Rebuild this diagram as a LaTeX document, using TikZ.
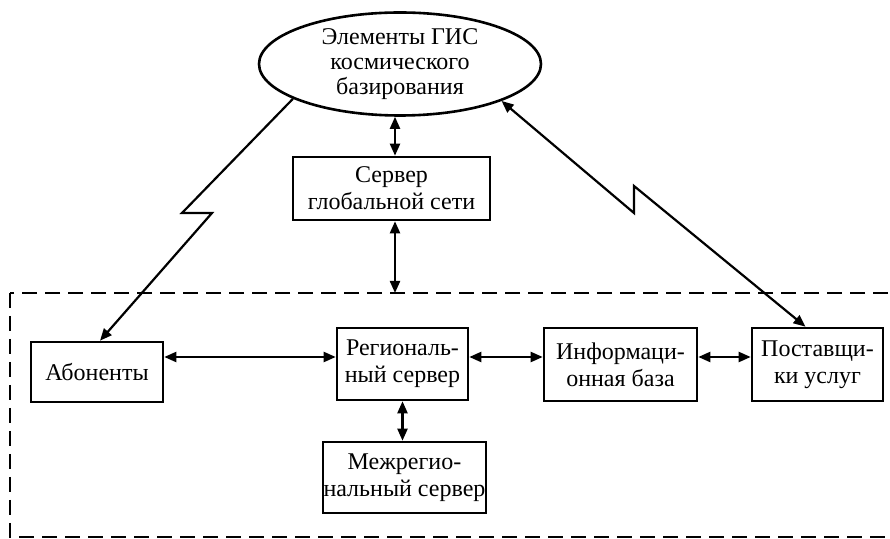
\documentclass[tikz,border=0pt]{standalone}
\usepackage{fontspec}
\setmainfont{Liberation Serif}
\usetikzlibrary{arrows.meta,calc,shapes.geometric}

\begin{document}
\begin{tikzpicture}[
  x=0.5pt, y=-0.5pt,
  font=\fontsize{12}{13.5}\selectfont,
  block/.style={draw, line width=1.3pt, align=center, inner sep=0pt},
  cloud/.style={ellipse, draw, line width=1.3pt, align=center, inner sep=0pt,
                minimum width=141pt, minimum height=51.5pt},
  link/.style={{Triangle[length=6pt,width=5pt]}-{Triangle[length=6pt,width=5pt]},
               line width=1.1pt},
  radio/.style={-{Triangle[length=6pt,width=5pt]}, line width=1.1pt},
  zone/.style={line width=0.8pt, dash pattern=on 7.5pt off 4pt},
]
\useasboundingbox (0,0) rectangle (890,539);

% Space segment and the global network server
\node[cloud, font=\fontsize{12}{12.5}\selectfont] (gis) at (400,64)
  {Элементы ГИС\\космического\\базирования};
\node[block, minimum width=98.5pt, minimum height=31.5pt] (wan) at (391.5,188.5)
  {Сервер\\глобальной сети};

% Regional segment (dashed zone)
\draw[zone] (10,293) rectangle (895,537);
\coordinate (gate) at (395,293);
\coordinate (hline) at (0,357);

\node[block, minimum width=66pt, minimum height=30pt] (abon) at (97,372)
  {Абоненты};
\node[block, minimum width=65.5pt, minimum height=36pt] (reg) at (402.5,364)
  {Региональ-\\ный сервер};
\node[block, minimum width=76.5pt, minimum height=36.5pt] (info) at (620.5,364.5)
  {Информаци-\\онная база};
\node[block, minimum width=65.5pt, minimum height=36.5pt] (prov) at (817.5,364.5)
  {Поставщи-\\ки услуг};
\node[block, minimum width=81.5pt, minimum height=35.5pt] (ireg) at (404.5,477.5)
  {Межрегио-\\нальный сервер};

% Wired links
\draw[link] (gis.south -| gate) -- (wan.north -| gate);
\draw[link] (wan.south -| gate) -- (gate);
\draw[link] (abon.east |- hline) -- (reg.west |- hline);
\draw[link] (reg.east |- hline) -- (info.west |- hline);
\draw[link] (info.east |- hline) -- (prov.west |- hline);
\draw[link] (reg.south) -- (ireg.north -| reg.south);

% Radio links (zigzag)
\coordinate (zl1) at (182,213);
\coordinate (zl2) at (212,213);
\draw[radio] (gis.198) -- (zl1) -- (zl2) -- ($(abon.north)+(3,0)$);
\coordinate (zr1) at (634,213);
\coordinate (zr2) at (634,186);
\draw[link] (gis.340) -- (zr1) -- (zr2) -- ($(prov.north)+(-12,0)$);

\end{tikzpicture}
\end{document}
